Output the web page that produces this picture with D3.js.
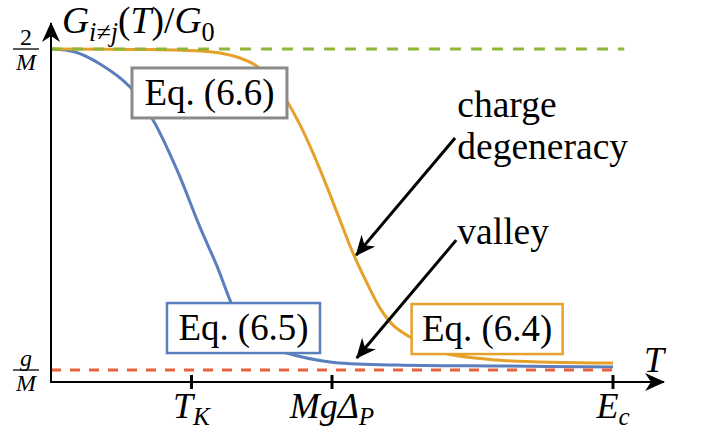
<!DOCTYPE html>
<html>
<head>
<meta charset="utf-8">
<script src="https://cdn.jsdelivr.net/npm/d3@7"></script>
</head>
<body style="margin:0">
<script>
// --- Data (T in units of E_c = 100, G in units of 2/M = 1) ---
const blueT   = [0, 4.27, 8.72, 14.06, 18.15, 22.42, 26.51, 29.54, 31.85, 33.63, 35.77, 38.08, 41.28, 49.64, 61.57, 79.89, 100];
const blueG   = [1, 0.991, 0.955, 0.886, 0.787, 0.637, 0.465, 0.348, 0.246, 0.180, 0.138, 0.111, 0.090, 0.060, 0.051, 0.048, 0.045];
const orangeT = [0, 17.62, 26.51, 30.07, 33.63, 36.30, 38.97, 41.64, 44.31, 46.62, 49.11, 51.42, 53.74, 56.23, 58.54, 60.85, 63.88, 69.22, 79.36, 100];
const orangeG = [1, 0.9985, 0.994, 0.988, 0.973, 0.952, 0.913, 0.853, 0.772, 0.688, 0.586, 0.486, 0.387, 0.297, 0.222, 0.171, 0.135, 0.090, 0.066, 0.057];

const topLevel = 1;        // 2/M
const gLevel = 0.036;      // g/M
const greenEnd = 102;
const tickT = [25, 50, 100];
const tickLabels = [["T", "K"], ["MgΔ", "P"], ["E", "c"]];

const eqLabels = ["Eq. (6.6)", "Eq. (6.5)", "Eq. (6.4)"];
const eqT = [28.2, 34.25, 77.6];     // box centre
const eqG = [0.868, 0.162, 0.159];
const eqW = [155, 153, 151];
const noteText = ["charge", "degeneracy", "valley"];
const noteT = [72.3, 72.3, 72.3];
const noteG = [0.796, 0.67, 0.414];
const arrowFromT = [71.9, 72.1], arrowFromG = [0.733, 0.426];
const arrowToT   = [54.3, 54.4], arrowToG   = [0.381, 0.072];

// --- Colours ---
const blue = "#5b7fbd", orange = "#e5a12a", green = "#8fb536", red = "#e9613d", grey = "#8a8a8a";
const FONT = '"Liberation Serif"';

const width = 705, height = 432;
const x = d3.scaleLinear().domain([0, 100]).range([51, 613]);
const y = d3.scaleLinear().domain([0, 1]).range([382, 49]);

const svg = d3.select("body").append("svg")
    .attr("width", width).attr("height", height);

// text at 30px, enlarged with a transform
function bigText(px, py, k) {
    return svg.append("text")
        .attr("font-family", "Liberation Serif")
        .style("font-family", FONT)
        .attr("font-size", 30)
        .attr("transform", `translate(${px},${py}) scale(${k})`);
}

const defs = svg.append("defs");
defs.append("marker").attr("id", "stealth")
    .attr("viewBox", "-20 -10 22 20").attr("refX", 0).attr("refY", 0)
    .attr("markerWidth", 22).attr("markerHeight", 20).attr("markerUnits", "userSpaceOnUse")
    .attr("orient", "auto")
    .append("path").attr("d", "M1,0 L-19,-9 L-13,0 L-19,9 Z").attr("fill", "#000");

// --- Curves ---
const line = d3.line().x(d => x(d[0])).y(d => y(d[1])).curve(d3.curveCatmullRom.alpha(0.5));
svg.append("path").datum(d3.zip(blueT, blueG))
    .attr("d", line).attr("fill", "none").attr("stroke", blue).attr("stroke-width", 3);
svg.append("path").datum(d3.zip(orangeT, orangeG))
    .attr("d", line).attr("fill", "none").attr("stroke", orange).attr("stroke-width", 3);

// dashed limits
svg.append("line").attr("x1", x(0)).attr("x2", x(greenEnd)).attr("y1", y(topLevel)).attr("y2", y(topLevel))
    .attr("stroke", green).attr("stroke-width", 3).attr("stroke-dasharray", "11 10");
svg.append("line").attr("x1", x(0)).attr("x2", x(100)).attr("y1", y(gLevel)).attr("y2", y(gLevel))
    .attr("stroke", red).attr("stroke-width", 3).attr("stroke-dasharray", "10 9");

// --- Axes ---
svg.append("line").attr("x1", x(0)).attr("x2", x(0)).attr("y1", y(0) + 1).attr("y2", 23)
    .attr("stroke", "#000").attr("stroke-width", 2).attr("marker-end", "url(#stealth)");
svg.append("line").attr("x1", x(0) - 1).attr("x2", 664).attr("y1", y(0)).attr("y2", y(0))
    .attr("stroke", "#000").attr("stroke-width", 2).attr("marker-end", "url(#stealth)");

svg.selectAll(".tick").data(tickT).enter().append("line")
    .attr("x1", d => x(d)).attr("x2", d => x(d))
    .attr("y1", y(0) - 7).attr("y2", y(0) + 7)
    .attr("stroke", "#000").attr("stroke-width", 3);

tickLabels.forEach((d, i) => {
    const t = bigText(x(tickT[i]), 418, 1.2).attr("text-anchor", "middle");
    t.append("tspan").attr("font-style", "italic").text(d[0]);
    t.append("tspan").attr("font-style", "italic").attr("font-size", 21).attr("dy", 6).text(d[1]);
});

bigText(644, 372, 1.2).attr("font-style", "italic").text("T");

// y fractions
function frac(num, den, gy, numItalic) {
    const cx = 26;
    svg.append("line").attr("x1", cx - 13).attr("x2", cx + 13).attr("y1", gy).attr("y2", gy)
        .attr("stroke", "#000").attr("stroke-width", 1.3);
    bigText(cx, gy - 4, 0.8).attr("text-anchor", "middle")
        .attr("font-style", numItalic ? "italic" : "normal").text(num);
    bigText(cx, gy + 21, 0.8).attr("text-anchor", "middle")
        .attr("font-style", "italic").text(den);
}
frac("2", "M", y(topLevel), false);
frac("g", "M", y(gLevel), true);

// title
const title = bigText(62, 33, 1.25);
title.append("tspan").attr("font-style", "italic").text("G");
title.append("tspan").attr("font-style", "italic").attr("font-size", 21).attr("dy", 6).text("i≠j");
title.append("tspan").attr("dy", -6).text("(");
title.append("tspan").attr("font-style", "italic").text("T");
title.append("tspan").text(")/");
title.append("tspan").attr("font-style", "italic").text("G");
title.append("tspan").attr("font-size", 21).attr("dy", 6).text("0");

// --- Eq. boxes ---
const boxColors = [grey, blue, orange];
const boxStroke = [3, 2.5, 2.5];
eqLabels.forEach((lab, i) => {
    const cx = x(eqT[i]), cy = y(eqG[i]);
    svg.append("rect").attr("x", cx - eqW[i] / 2).attr("y", cy - 25).attr("width", eqW[i]).attr("height", 50)
        .attr("fill", "#fff").attr("stroke", boxColors[i]).attr("stroke-width", boxStroke[i]);
    bigText(cx, cy + 12, 1.23).attr("text-anchor", "middle").text(lab);
});

// --- Annotations ---
noteText.forEach((d, i) => {
    bigText(x(noteT[i]), y(noteG[i]), 1.25).text(d);
});

arrowFromT.forEach((t, i) => {
    svg.append("line")
        .attr("x1", x(t)).attr("y1", y(arrowFromG[i]))
        .attr("x2", x(arrowToT[i])).attr("y2", y(arrowToG[i]))
        .attr("stroke", "#000").attr("stroke-width", 3).attr("marker-end", "url(#stealth)");
});
</script>
</body>
</html>
